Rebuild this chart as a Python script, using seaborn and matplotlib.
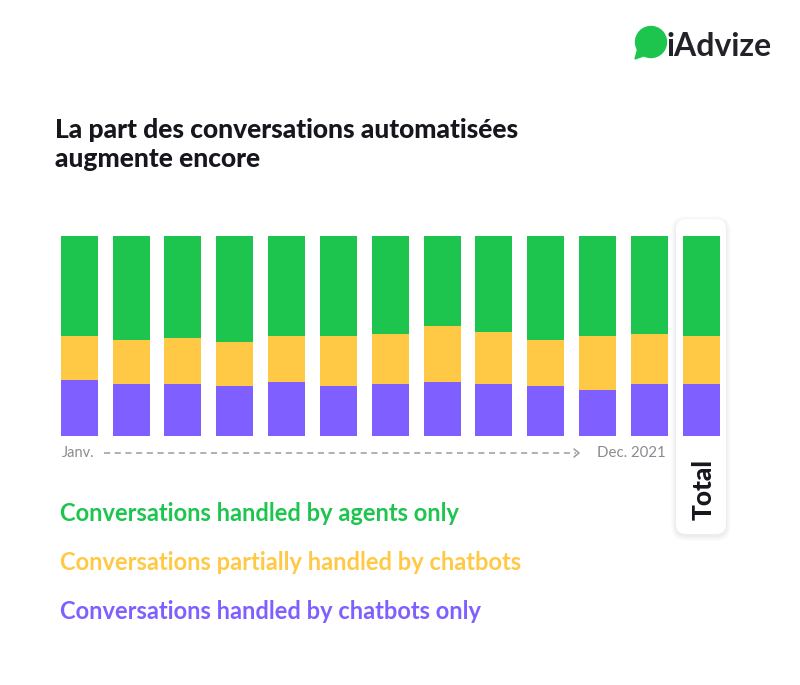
import pandas as pd
import matplotlib.pyplot as plt
import seaborn as sns
from matplotlib.patches import FancyBboxPatch, Circle, Polygon
from matplotlib.lines import Line2D

# Data (share of conversations, %)
months = ['Jan', 'Feb', 'Mar', 'Apr', 'May', 'Jun', 'Jul', 'Aug', 'Sep', 'Oct', 'Nov', 'Dec', 'Total']
chatbots_only = [28, 26, 26, 25, 27, 25, 26, 27, 26, 25, 23, 26, 26]
partially_chatbots = [22, 22, 23, 22, 23, 25, 25, 28, 26, 23, 27, 25, 24]
agents_only = [50, 52, 51, 53, 50, 50, 49, 45, 48, 52, 50, 49, 50]

legend_labels = ['Conversations handled by agents only',
                 'Conversations partially handled by chatbots',
                 'Conversations handled by chatbots only']

GREEN = '#1DC54F'
YELLOW = '#FFC945'
PURPLE = '#7F5FFF'
DARK = '#16161D'

df = pd.DataFrame({'month': months, 'bot': chatbots_only,
                   'partial': partially_chatbots, 'agent': agents_only})
df['level2'] = df['bot'] + df['partial']
df['level3'] = df['level2'] + df['agent']

sns.set_style('white')
plt.rcParams['font.family'] = ['Lato', 'DejaVu Sans']

W, H = 800, 685
fig = plt.figure(figsize=(8, 6.85), dpi=100)

# background overlay in pixel coordinates
bg = fig.add_axes([0, 0, 1, 1], zorder=0)
bg.set_xlim(0, W)
bg.set_ylim(H, 0)
bg.axis('off')

# Total card with a soft shadow
for i, a in enumerate([0.025, 0.03, 0.04, 0.05]):
    pad = 5 - i * 1.3
    bg.add_patch(FancyBboxPatch((676 - pad, 219 - pad + 2), 50 + 2 * pad, 315 + 2 * pad,
                                boxstyle='round,pad=0,rounding_size=%.1f' % (10 + pad),
                                facecolor='#9090a8', edgecolor='none', alpha=a))
bg.add_patch(FancyBboxPatch((676, 219), 50, 315, boxstyle='round,pad=0,rounding_size=10',
                            facecolor='white', edgecolor='none'))
bg.text(704, 490, 'Total', rotation=90, ha='center', va='center',
        fontsize=19, fontweight='black', color=DARK)

# bars
ax = fig.add_axes([53.3 / W, (H - 435.7) / H, 673.8 / W, 200 / H], zorder=1)
ax.patch.set_alpha(0)
for col, colr in [('level3', GREEN), ('level2', YELLOW), ('bot', PURPLE)]:
    sns.barplot(data=df, x='month', y=col, order=months, color=colr,
                width=0.714, saturation=1, edgecolor='none', linewidth=0, ax=ax)
ax.set_xlim(-0.5, 12.5)
ax.set_ylim(0, 100)
ax.axis('off')

# title
bg.text(55, 138, 'La part des conversations automatisées', ha='left', va='baseline',
        fontsize=19, fontweight='black', color=DARK)
bg.text(55, 167, 'augmente encore', ha='left', va='baseline',
        fontsize=19, fontweight='black', color=DARK)

# time axis annotation
bg.text(62, 453, 'Janv.', ha='left', va='center', fontsize=10.5, color='#8a8a90')
bg.add_line(Line2D([104, 576], [453, 453], color='#9a9aa0', linewidth=1.1,
                   linestyle=(0, (4, 3))))
bg.add_line(Line2D([574, 579, 574], [449, 453, 457], color='#9a9aa0', linewidth=1.1))
bg.text(597, 453, 'Dec. 2021', ha='left', va='center', fontsize=10.8, color='#8a8a90')

# legend texts
for lab, colr, y in zip(legend_labels, [GREEN, YELLOW, PURPLE], [521, 570, 619]):
    bg.text(60, y, lab, ha='left', va='baseline', fontsize=17, fontweight='bold', color=colr)

# logo
bg.add_patch(Circle((651, 42), 15.5, color=GREEN))
bg.add_patch(Polygon([[638, 48], [646, 55], [635, 59]], closed=True, color=GREEN))
bg.text(667, 46, 'iAdvize', ha='left', va='center', fontsize=23, fontweight='bold', color='#222228')

fig.savefig('out.png', dpi=100, facecolor='white')
